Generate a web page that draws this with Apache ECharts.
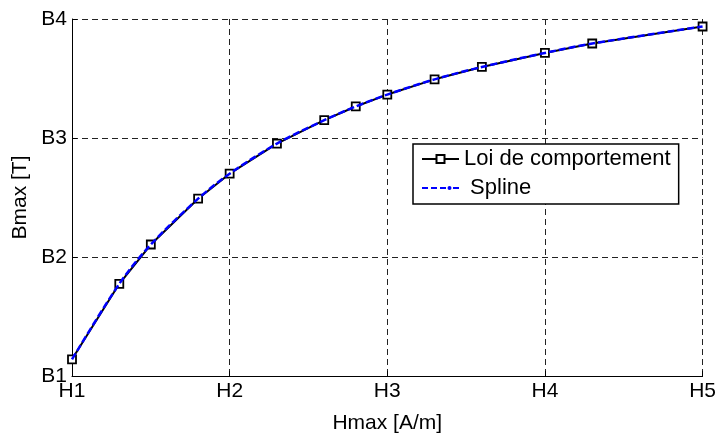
<!DOCTYPE html>
<html>
<head>
<meta charset="utf-8">
<script src="https://cdn.jsdelivr.net/npm/echarts@6/dist/echarts.min.js"></script>
<style>
  html, body { margin: 0; padding: 0; background: #fff; }
  #chart { width: 719px; height: 439px; }
</style>
</head>
<body>
<div id="chart"></div>
<script>
// Field strength samples (in H units) and the resulting induction (in B units)
const hValues = [1, 1.3, 1.5, 1.8, 2, 2.3, 2.6, 2.8, 3, 3.3, 3.6, 4, 4.3, 5];
const bLaw    = [1.14, 1.775, 2.105, 2.49, 2.70, 2.953, 3.15, 3.265, 3.365, 3.493, 3.597, 3.715, 3.794, 3.937];
const bSpline = [1.14, 1.775, 2.105, 2.49, 2.70, 2.953, 3.15, 3.265, 3.365, 3.493, 3.597, 3.715, 3.794, 3.937];

const xTickLabels = ['H1', 'H2', 'H3', 'H4', 'H5'];
const yTickLabels = ['B1', 'B2', 'B3', 'B4'];

const seriesNames = ['Loi de comportement', ' Spline'];
const axisFont = 'Arial, "Liberation Sans", Helvetica, sans-serif';

// Legend glyph for the spline: short blue dashes with a small dot near the right end
const splineIcon = 'path://M0,4h6v2h-6z M9,4h6v2h-6z M18,4h6v2h-6z M31,4h6v2h-6z ' +
                   'M25.5,5a2,2 0 1,0 4,0a2,2 0 1,0 -4,0z';

const pairs = (xs, ys) => xs.map((x, i) => [x, ys[i]]);

const chart = echarts.init(document.getElementById('chart'), null, { renderer: 'canvas' });

const gridLine = { show: true, lineStyle: { color: '#222', width: 1, type: [6, 4] } };

chart.setOption({
  animation: false,
  backgroundColor: '#fff',
  grid: { left: 72, right: 16, top: 19, bottom: 55, containLabel: false },
  xAxis: {
    type: 'value', min: 1, max: 5, interval: 1,
    name: 'Hmax [A/m]', nameLocation: 'middle', nameGap: 37,
    nameTextStyle: { color: '#000', fontSize: 21, fontFamily: axisFont },
    axisLine: { show: true, onZero: false, lineStyle: { color: '#000', width: 1 } },
    axisTick: { show: true, inside: true, length: 5, lineStyle: { color: '#000' } },
    axisLabel: { color: '#000', fontSize: 21, fontFamily: axisFont, margin: 5,
      formatter: v => xTickLabels[Math.round(v) - 1] },
    splitLine: gridLine
  },
  yAxis: {
    type: 'value', min: 1, max: 4, interval: 1,
    name: 'Bmax [T]', nameLocation: 'middle', nameGap: 37, nameRotate: 90,
    nameTextStyle: { color: '#000', fontSize: 21, fontFamily: axisFont },
    axisLine: { show: true, onZero: false, lineStyle: { color: '#000', width: 1 } },
    axisTick: { show: true, inside: true, length: 5, lineStyle: { color: '#000' } },
    axisLabel: { color: '#000', fontSize: 21, fontFamily: axisFont, margin: 5,
      formatter: v => yTickLabels[Math.round(v) - 1] },
    splitLine: gridLine
  },
  legend: {
    left: 413, top: 144, orient: 'vertical',
    backgroundColor: '#fff', borderColor: '#000', borderWidth: 1.5, borderRadius: 0,
    padding: [4, 8, 5, 8], itemGap: 7, itemWidth: 37, itemHeight: 10,
    textStyle: { color: '#000', fontSize: 22, fontFamily: axisFont },
    data: [
      { name: seriesNames[0] },
      { name: seriesNames[1], icon: splineIcon }
    ]
  },
  series: [
    {
      name: seriesNames[0], type: 'line', z: 2,
      data: pairs(hValues, bLaw),
      symbol: 'rect', symbolSize: 8,
      itemStyle: { color: '#fff', borderColor: '#000', borderWidth: 1.8 },
      lineStyle: { color: '#000', width: 2 }
    },
    {
      name: seriesNames[1], type: 'line', z: 3, smooth: 0.3,
      data: pairs(hValues, bSpline),
      symbol: 'circle', symbolSize: 3, showSymbol: false,
      itemStyle: { color: '#0000ff' },
      lineStyle: { color: '#0000ff', width: 2.5, type: [7, 3] }
    }
  ]
});
</script>
</body>
</html>
